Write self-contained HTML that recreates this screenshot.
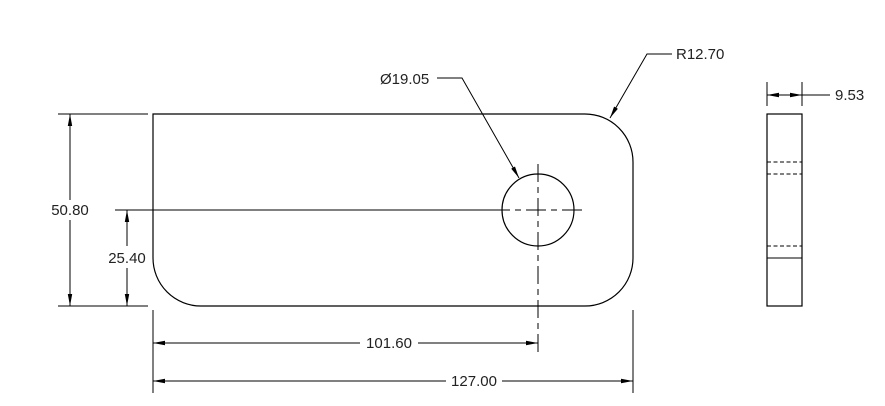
<!DOCTYPE html>
<html><head><meta charset="utf-8"><style>
html,body{margin:0;padding:0;background:#fff;}
svg{display:block;}
text{font-family:"Liberation Sans",sans-serif;font-size:15px;fill:#222;}
</style></head><body>
<svg width="885" height="406" viewBox="0 0 885 406" xmlns="http://www.w3.org/2000/svg">
<defs>
<marker id="a" viewBox="0 0 12 6" refX="12" refY="3" markerWidth="12" markerHeight="6" orient="auto-start-reverse" markerUnits="userSpaceOnUse">
<path d="M0,0.8 L12,3 L0,5.2 Z" fill="#000"/></marker>
</defs>
<g stroke="#000" stroke-width="1.2" fill="none">
<path d="M153,114 H585 A48,48 0 0 1 633,162 V258 A48,48 0 0 1 585,306 H201 A48,48 0 0 1 153,258 Z"/>
<circle cx="538" cy="210" r="36"/>
</g>
<g stroke="#000" stroke-width="1" fill="none">
<line x1="538" y1="164" x2="538" y2="354" stroke-dasharray="18,5,6,5"/>
<line x1="490" y1="210" x2="584" y2="210" stroke-dasharray="20,5,6,5"/>
<line x1="115" y1="210" x2="490" y2="210"/>
<line x1="58" y1="114" x2="148" y2="114"/>
<line x1="58" y1="306" x2="148" y2="306"/>
<line x1="70" y1="114" x2="70" y2="200" marker-start="url(#a)"/>
<line x1="70" y1="220" x2="70" y2="306" marker-end="url(#a)"/>
<line x1="127" y1="210" x2="127" y2="246" marker-start="url(#a)"/>
<line x1="127" y1="268" x2="127" y2="306" marker-end="url(#a)"/>
<line x1="153" y1="310" x2="153" y2="393"/>
<line x1="633" y1="310" x2="633" y2="393"/>
<line x1="153" y1="343" x2="360" y2="343" marker-start="url(#a)"/>
<line x1="418" y1="343" x2="538" y2="343" marker-end="url(#a)"/>
<line x1="153" y1="381" x2="446" y2="381" marker-start="url(#a)"/>
<line x1="502" y1="381" x2="633" y2="381" marker-end="url(#a)"/>
<polyline points="437,78 462,78 519,178" marker-end="url(#a)"/>
<polyline points="672,54 647,54 610,118" marker-end="url(#a)"/>
<rect x="767" y="114" width="35" height="192" stroke-width="1.2"/>
<line x1="767" y1="162" x2="802" y2="162" stroke-dasharray="4,2.5"/>
<line x1="767" y1="174" x2="802" y2="174" stroke-dasharray="4,2.5"/>
<line x1="767" y1="246" x2="802" y2="246" stroke-dasharray="4,2.5"/>
<line x1="767" y1="258" x2="802" y2="258"/>
<line x1="767" y1="82" x2="767" y2="106"/>
<line x1="802" y1="82" x2="802" y2="106"/>
<line x1="767" y1="95" x2="785" y2="95" marker-start="url(#a)"/>
<line x1="785" y1="95" x2="802" y2="95" marker-end="url(#a)"/>
<line x1="802" y1="95" x2="830" y2="95"/>
</g>
<text x="70" y="215" text-anchor="middle" style="paint-order:stroke;stroke:#fff;stroke-width:4px">50.80</text>
<text x="127" y="263" text-anchor="middle">25.40</text>
<text x="389" y="348" text-anchor="middle">101.60</text>
<text x="474" y="386" text-anchor="middle">127.00</text>
<text x="380" y="84">Ø19.05</text>
<text x="676" y="59">R12.70</text>
<text x="835" y="100">9.53</text>
</svg>
</body></html>
